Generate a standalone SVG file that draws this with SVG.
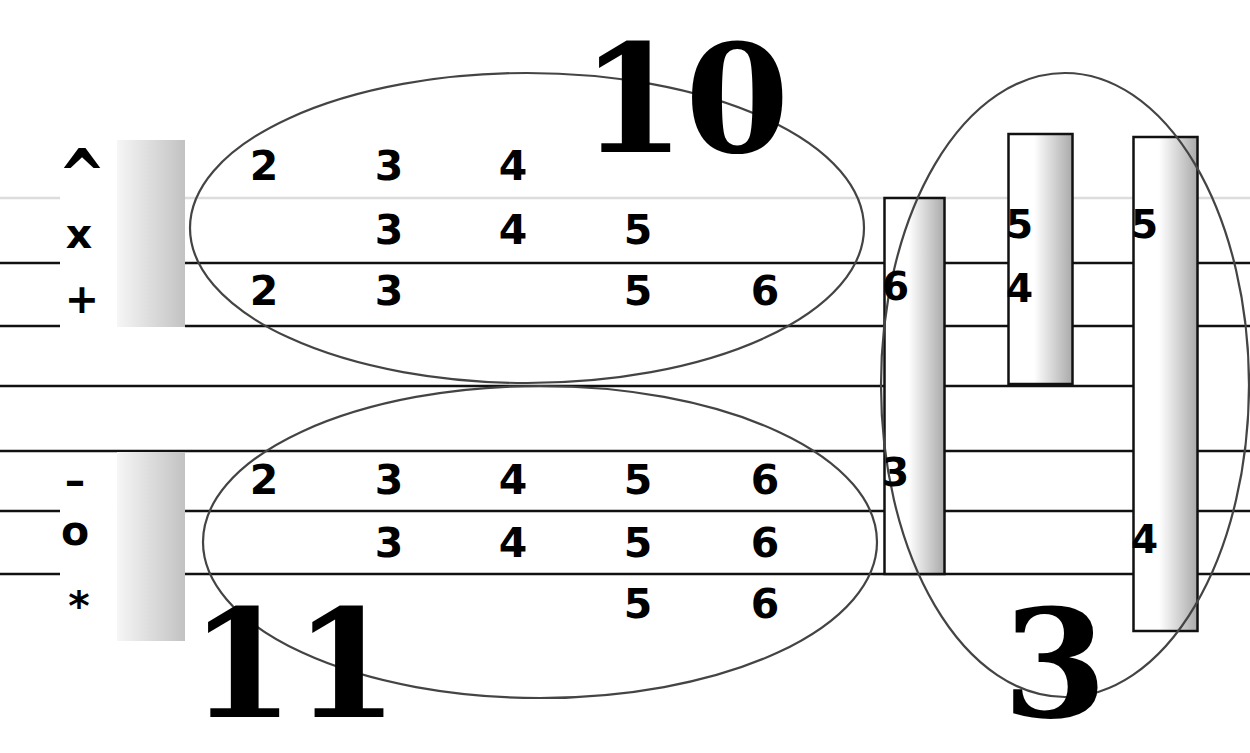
<svg xmlns="http://www.w3.org/2000/svg" width="1250" height="753" viewBox="0 0 1250 753">
<defs>
<linearGradient id="gl" x1="0" y1="0" x2="1" y2="0">
<stop offset="0" stop-color="#f6f6f6"/>
<stop offset="1" stop-color="#c2c2c2"/>
</linearGradient>
<linearGradient id="gr" x1="0" y1="0" x2="1" y2="0">
<stop offset="0" stop-color="#ffffff"/>
<stop offset="0.4" stop-color="#ffffff"/>
<stop offset="1" stop-color="#a9a9a9"/>
</linearGradient>
<style>
.ln{stroke:#111;stroke-width:2.5;fill:none}
.lg{stroke:#dcdcdc;stroke-width:2.5;fill:none}
.el{fill:none;stroke:#444;stroke-width:2.2}
.bx{fill:url(#gr);stroke:#111;stroke-width:2.5}
.d{font-family:"DejaVu Sans",Verdana,sans-serif;font-weight:bold;font-size:41px;fill:#000;text-anchor:middle}
.b{font-family:"DejaVu Sans",Verdana,sans-serif;font-weight:bold;font-size:39px;fill:#000}
.big{font-family:"DejaVu Serif","Liberation Serif",serif;font-weight:bold;font-size:150px;fill:#000;text-anchor:middle}
</style>
</defs>
<rect width="1250" height="753" fill="#fff"/>
<g id="staff">
<path class="lg" d="M0 198H60M185 198H1250"/>
<path class="ln" d="M0 263H60M185 263H1250M0 326H60M185 326H1250"/>
<path class="ln" d="M0 386H1133"/>
<path class="ln" d="M0 451H1250"/>
<path class="ln" d="M0 511H60M185 511H1250M0 574H60M185 574H1250"/>
</g>
<g id="leftbar-top"><rect x="117" y="140" width="68" height="187" fill="url(#gl)"/></g>
<g id="leftbar-bottom"><rect x="117" y="452" width="68" height="189" fill="url(#gl)"/></g>
<g id="bar-a"><rect class="bx" x="884.5" y="198" width="60" height="376"/></g>
<g id="bar-b"><rect class="bx" x="1008.5" y="134" width="64" height="250"/></g>
<g id="bar-c"><rect class="bx" x="1133.5" y="137" width="64" height="494"/></g>
<g id="group-10"><ellipse class="el" cx="527" cy="228" rx="337" ry="155"/></g>
<g id="group-11"><ellipse class="el" cx="540" cy="542" rx="337" ry="156"/></g>
<g id="group-3"><ellipse class="el" cx="1065" cy="385" rx="184" ry="312"/></g>
<g id="labels">
<text class="d" transform="translate(82,201) scale(1.4,1.8)">^</text>
<text class="d" x="79" y="248">x</text>
<text class="d" x="82" y="313" font-size="46">+</text>
<text class="d" x="75" y="495">–</text>
<text class="d" x="75" y="545" font-size="30">o</text>
<text class="d" x="79" y="620" font-size="48">*</text>
</g>
<g id="top-numbers">
<text class="d" x="264" y="180">2</text><text class="d" x="389" y="180">3</text><text class="d" x="513" y="180">4</text>
<text class="d" x="389" y="244">3</text><text class="d" x="513" y="244">4</text><text class="d" x="638" y="244">5</text>
<text class="d" x="264" y="305">2</text><text class="d" x="389" y="305">3</text><text class="d" x="638" y="305">5</text><text class="d" x="765" y="305">6</text>
</g>
<g id="bottom-numbers">
<text class="d" x="264" y="494">2</text><text class="d" x="389" y="494">3</text><text class="d" x="513" y="494">4</text><text class="d" x="638" y="494">5</text><text class="d" x="765" y="494">6</text>
<text class="d" x="389" y="557">3</text><text class="d" x="513" y="557">4</text><text class="d" x="638" y="557">5</text><text class="d" x="765" y="557">6</text>
<text class="d" x="638" y="618">5</text><text class="d" x="765" y="618">6</text>
</g>
<g id="bar-numbers">
<text class="b" x="882" y="300">6</text>
<text class="b" x="882" y="486">3</text>
<text class="b" x="1006" y="238">5</text>
<text class="b" x="1006" y="302">4</text>
<text class="b" x="1131" y="238">5</text>
<text class="b" x="1131" y="553">4</text>
</g>
<g id="titles">
<text class="big" x="685" y="152">10</text>
<text class="big" x="294" y="717">11</text>
<text class="big" x="1055" y="717">3</text>
</g>
</svg>
